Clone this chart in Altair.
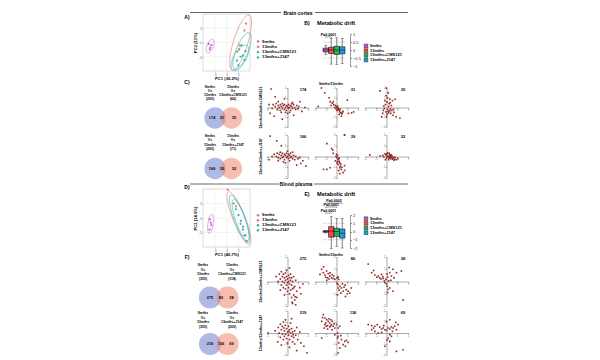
import math
import altair as alt
import numpy as np
import pandas as pd

FONT = "Liberation Sans"
GROUPS = ["9mths", "13mths", "13mths+CMS121", "13mths+J147"]
PCA_COLORS = ["#c46ccb", "#ef6f6a", "#25b47e", "#22b5d4"]
BOX_COLORS = ["#b45ec4", "#ee4b4d", "#22b35d", "#1f9de1"]
PT_COLOR = "#8c1c1c"
VENN_COLORS = ["#6f7fd0", "#f0876f"]

# ---------------- PCA panels ----------------
A_TITLES = ["PC1 (36.2%)", "PC2 (11%)"]
A_GRP = [0, 0, 0, 0, 1, 1, 1, 1, 2, 2, 2, 2, 3, 3, 3, 3]
A_X = [-7.6, -6.9, -6.4, -7.1, 8.3, 7.6, 5.6, 4.6, 5.4, 7.0, 8.1, 6.4, 4.4, 6.0, 7.6, 5.1]
A_Y = [-0.5, -1.8, -0.9, -2.4, 6.6, 4.2, -1.0, -3.2, -2.4, -4.6, -3.0, -1.0, -6.4, -5.0, -6.1, -8.0]
A_ELL_CX = [-7.0, 6.0, 6.6, 5.7]
A_ELL_CY = [-1.3, 0.0, -3.0, -5.4]
A_ELL_A = [2.6, 10.3, 7.1, 5.3]
A_ELL_B = [1.3, 3.0, 2.5, 2.5]
A_ELL_ANG = [62, 69, 63, 53]

D_TITLES = ["PC1 (45.7%)", "PC2 (14.5%)"]
D_GRP = [0, 0, 0, 0, 1, 1, 1, 1, 2, 2, 2, 2, 3, 3, 3, 3]
D_X = [-7.1, -6.5, -7.2, -6.7, 0.6, 4.0, 6.0, 7.6, 3.0, 5.1, 7.0, 8.5, 4.0, 6.1, 7.1, 8.1]
D_Y = [-0.5, -2.5, -4.0, -1.6, 9.7, 4.0, -2.0, -6.0, 5.0, 1.0, -4.0, -8.0, 3.0, -1.0, -3.0, -6.0]
D_ELL_CX = [-6.8, 5.3, 5.5, 6.0]
D_ELL_CY = [-2.0, 0.0, -0.3, -0.7]
D_ELL_A = [3.4, 10.1, 9.0, 7.7]
D_ELL_B = [1.1, 2.5, 2.2, 2.0]
D_ELL_ANG = [80, 117, 115, 114]

PCA_TICKS = [-5, 0, 5]

# ---------------- Metabolic drift boxplots ----------------
B_LO = [-0.3, -0.88, -0.9, -0.85]
B_Q1 = [-0.12, -0.22, -0.28, -0.24]
B_MED = [0.0, 0.0, 0.0, 0.0]
B_Q3 = [0.12, 0.18, 0.24, 0.2]
B_HI = [0.3, 0.72, 0.76, 0.72]
B_TICKS = [-1, -0.5, 0, 0.5, 1]
B_DASH = [-0.5, 0.5]
B_PTEXT = ["P≤0.0001"]
B_PFROM = [0]
B_PTO = [1]
B_PLEV = [0.82]

E_LO = [-0.18, -2.1, -1.8, -2.0]
E_Q1 = [-0.1, -0.7, -0.6, -0.8]
E_MED = [0.0, 0.05, 0.0, -0.2]
E_Q3 = [0.1, 0.6, 0.4, 0.3]
E_HI = [0.15, 1.8, 1.6, 1.6]
E_TICKS = [-2, -1, 0, 1, 2]
E_DASH = [-1, 1]
E_PTEXT = ["P≤0.0001", "P≤0.0001", "P≤0.0002"]
E_PFROM = [0, 0, 0]
E_PTO = [1, 2, 3]
E_PLEV = [2.24, 2.97, 3.45]

# ---------------- Venn diagrams ----------------
VENN_POS = [-1, 1]
C1_LEFT = ["9mths", "Vs", "13mths", "(205)"]
C1_RIGHT = ["13mths", "Vs", "13mths+CMS121", "(66)"]
C1_NUMS = ["174", "31", "35"]
C2_LEFT = ["9mths", "Vs", "13mths", "(205)"]
C2_RIGHT = ["13mths", "Vs", "13mths+J147", "(71)"]
C2_NUMS = ["166", "39", "32"]
F1_LEFT = ["9mths", "Vs", "13mths", "(355)"]
F1_RIGHT = ["13mths", "Vs", "13mths+CMS121", "(118)"]
F1_NUMS = ["275", "80", "38"]
F2_LEFT = ["9mths", "Vs", "13mths", "(355)"]
F2_RIGHT = ["13mths", "Vs", "13mths+J147", "(205)"]
F2_NUMS = ["219", "136", "69"]

# ---------------- Scatter panels (fold-change pairs) ----------------
C1A_X = [-1.4, -1.2, -1.1, -1.0, -0.9, -0.8, -0.7, -0.7, -0.6, -0.5, -0.5, -0.4, -0.3, -0.3, -0.2, -0.1, -0.1, 0.0, 0.1, 0.1, 0.2, 0.3, 0.3, 0.4, 0.5, 0.6, 0.7, 0.8, 0.9, 1.0, 1.1, -0.6, -0.2, 0.2, 0.5, -0.9, -1.6, -1.2, -0.3, -1.7, -1.3, -0.5, 0.6, 1.4, 1.7, 1.2, -1.8, -1.5, 0.0, 0.4]
C1A_Y = [0.3, 0.1, 0.4, -0.2, 0.2, 0.0, 0.3, -0.3, 0.1, 0.4, -0.1, 0.2, -0.2, 0.3, 0.0, 0.2, -0.3, 0.1, 0.3, -0.1, 0.0, 0.2, -0.3, 0.1, -0.1, 0.3, 0.0, -0.2, 0.2, -0.1, 0.1, -0.5, -0.5, -0.5, 0.5, 0.6, 1.9, 1.1, 0.9, -0.6, -0.9, -1.2, -0.8, -0.4, 0.0, 0.6, 0.3, -0.1, -0.6, 0.4]
C1B_X = [-1.7, -1.4, -1.1, -0.7, -0.6, -0.4, -0.25, -0.1, 0.0, 0.1, 0.15, 0.25, 0.3, 0.4, 0.5, 0.2, 0.05, -0.15, 0.35, 1.4, 1.6, 1.0, 0.45, -0.5, 0.6, 0.1, -0.3, 0.25, 0.55, -0.05, 1.1]
C1B_Y = [0.1, 2.0, 1.5, 1.0, 0.6, 0.45, 0.3, 0.2, 0.05, -0.05, -0.2, -0.3, -0.45, -0.55, -0.65, -0.1, -0.3, 0.0, -0.2, -0.55, -0.45, 0.75, -0.9, 0.2, -0.4, 0.15, 0.6, -0.7, -0.5, -0.15, -0.6]
C1C_X = [0.0, -0.6, 0.15, -0.05, 0.3, -0.15, 0.05, 0.25, 0.55, 0.8, -0.3, -0.05, 0.15, 0.4, 0.6, 0.9, -0.45, 0.0, 1.25, 0.35, 0.1, -0.2, 0.5, 0.2, -0.1, 0.7, 0.3, -0.35, 0.45, 0.05, 0.2, -0.25, 0.65, 0.1, 0.35]
C1C_Y = [2.0, 1.7, 1.5, 1.2, 0.85, 0.7, 0.55, 0.4, 0.7, 0.85, -0.3, -0.45, -0.4, -0.6, -0.8, -0.95, -0.95, -0.95, -1.1, -0.15, -0.2, -0.1, -0.3, 0.1, 0.3, -0.5, -0.35, -0.6, 0.2, -0.7, -0.55, 0.15, -0.2, 1.0, 0.5]
C2A_X = [-1.3, -1.1, -1.0, -0.9, -0.8, -0.7, -0.7, -0.6, -0.5, -0.5, -0.4, -0.3, -0.3, -0.2, -0.1, -0.1, 0.0, 0.1, 0.1, 0.2, 0.3, 0.3, 0.4, 0.5, 0.6, 0.7, 0.8, 1.0, 1.2, -0.9, -0.4, 0.2, 0.5, -1.5, -1.7, -1.05, -0.6, 1.3, 1.8, 0.9, 1.5, -1.8, -0.2, 0.0]
C2A_Y = [0.2, 0.0, 0.3, -0.1, 0.2, 0.4, -0.2, 0.1, -0.1, 0.3, 0.0, 0.2, -0.3, 0.1, -0.1, 0.3, 0.0, 0.2, -0.2, 0.1, -0.1, 0.3, 0.0, -0.2, 0.1, -0.3, 0.0, -0.2, -0.1, -0.4, -0.5, -0.4, 0.4, 0.0, 1.9, 1.45, 1.0, -0.65, -0.9, -0.8, -0.4, -0.3, -0.6, 0.5]
C2B_X = [0.75, -0.9, -0.45, -0.35, 0.0, 0.05, 0.15, 0.25, 0.3, 0.15, 0.3, 0.45, -0.6, -0.9, -1.2, 0.6, 0.3, 0.75, 0.75, 0.1, 0.2, -0.05, 0.35, 0.05, 0.25, 0.1, 0.4, -0.1, 0.5, 0.2, 0.75, -0.3]
C2B_Y = [2.0, 1.2, 0.75, 0.6, 0.2, -0.1, -0.3, -0.45, -0.6, -0.75, -1.05, -1.2, -1.05, -1.2, -1.2, -1.5, -1.6, -0.85, -1.3, -0.5, -0.2, 0.0, -0.9, -0.6, -0.15, 0.1, -0.7, -0.4, -1.0, -1.3, 2.0, 0.3]
C2C_X = [-0.05, 0.05, 0.15, 0.3, 0.45, 0.6, 0.75, 0.25, 0.0, -0.25, 0.9, -1.55, -0.6, 0.35, 0.5, 0.2, -0.1, 0.1, 0.4, 0.65, 0.55, 0.15, -0.35, 0.3, 0.8, 0.05, 0.45, -0.15, 0.25, 0.7, 1.05, 0.35]
C2C_Y = [0.15, 0.25, 0.05, 0.0, -0.05, -0.15, -0.25, -0.15, -0.15, -0.05, -0.3, 0.15, 0.05, 0.1, 0.05, -0.3, -0.3, 0.35, -0.2, -0.05, -0.25, -0.05, 0.1, 0.2, -0.1, 0.05, 0.15, 0.25, 0.3, -0.35, -0.2, -0.1]
F1A_X = [-0.8, -0.7, -0.6, -0.6, -0.5, -0.5, -0.4, -0.4, -0.3, -0.3, -0.2, -0.2, -0.2, -0.1, -0.1, 0.0, 0.0, 0.0, 0.1, 0.1, 0.1, 0.2, 0.2, 0.2, 0.3, 0.3, 0.3, 0.4, 0.4, 0.5, 0.5, 0.6, 0.6, 0.7, 0.8, 0.9, -0.7, -0.9, -0.1, 0.4, 0.7, 0.5, 0.9, -0.3, 1.2, 1.5, -1.1, 0.2, 0.8, 1.3, 0.45, 0.75, 0.6]
F1A_Y = [0.6, 0.2, 0.8, -0.3, 0.4, 0.0, 0.6, -0.5, 0.3, -0.1, 0.7, 0.1, -0.6, 0.4, -0.3, 0.2, -0.1, -0.8, 0.5, 0.0, -0.5, 0.3, -0.2, -1.0, 0.6, 0.1, -0.7, -0.3, 0.3, -0.6, 0.0, -1.1, 0.4, -0.4, 0.1, -0.8, -0.7, 0.0, 0.9, -1.3, -1.5, -1.8, -1.3, -1.1, -0.5, -0.2, 0.4, 1.1, -1.9, -1.0, -1.7, -1.25, -0.5]
F1B_X = [-1.38, -1.23, -1.08, -0.92, -0.77, -0.62, -0.46, -0.31, -0.83, -1.0, -0.15, -1.54, 0.15, 0.2, -0.6, -0.4, -1.2, -0.9, -0.25, -0.7, 0.05, 0.15, 0.3, 0.46, 0.7, 0.92, 1.08, 0.62, 0.4, 1.23, 0.83, 0.1, 1.38, 0.15, 0.55, 0.25, 1.0, 0.05, 0.8]
F1B_Y = [1.0, 0.72, 0.53, 0.86, 0.64, 0.44, 0.3, 0.25, 0.3, 0.35, 0.17, 0.58, 0.36, 0.17, 0.7, 0.55, 1.2, 0.1, 0.45, 0.2, 0.3, -0.25, -0.39, -0.53, -0.47, -0.67, -0.8, -0.8, -0.94, -0.94, -1.22, -1.08, -0.53, -0.53, -0.2, -0.7, -1.0, -0.15, -0.3]
F1C_X = [-1.7, -1.38, -1.08, -0.77, -0.62, -0.3, -0.06, 0.25, 0.3, 0.46, 0.6, 0.92, 1.38, 0.06, 0.3, 0.6, 0.15, 1.54, -0.15, -0.46, -0.9, -0.5, 0.1, -0.2, 0.0, 0.2, -1.2, 0.4, 0.1, -0.35, 0.7, 0.05]
F1C_Y = [1.42, 0.72, 0.53, 0.44, 0.3, 0.25, 0.17, 1.14, 0.72, 0.44, 1.0, 0.72, 0.86, -0.39, -0.53, -0.8, -0.65, -1.5, -0.1, 0.58, 0.35, 0.2, 0.35, 0.05, -0.2, 0.05, 0.9, 0.1, -0.9, 0.4, 0.3, 0.6]
F2A_X = [-0.9, -0.8, -0.7, -0.7, -0.6, -0.5, -0.5, -0.4, -0.4, -0.3, -0.3, -0.2, -0.2, -0.1, -0.1, 0.0, 0.0, 0.1, 0.1, 0.2, 0.2, 0.3, 0.3, 0.4, 0.4, 0.5, 0.5, 0.6, 0.7, 0.8, 0.9, -0.95, 0.7, 1.0, 1.3, 1.6, 1.9, 0.9, -1.9, -1.2, 0.4, -0.6, 1.2, 0.2, -0.2, 0.15, -0.35, 0.55]
F2A_Y = [0.5, 0.0, 0.8, -0.4, 0.3, -0.1, 0.6, 1.0, -0.6, 0.2, -0.3, 0.7, -0.1, 0.4, -0.5, 0.1, -0.9, 0.6, -0.2, 0.3, -0.6, 0.0, 0.9, -0.3, 0.4, -0.8, 0.1, -0.4, 0.2, -0.2, 0.5, -0.8, -1.0, -0.6, -0.9, -1.2, -1.8, -1.6, 0.0, 0.2, 1.3, -1.1, 0.1, -1.3, 1.2, 0.15, 0.45, -0.15]
F2B_X = [-1.23, -1.08, -0.92, -0.77, -0.62, -0.46, -0.31, -0.15, -1.0, -0.83, -0.62, -1.38, -1.14, 0.15, 0.3, -0.52, -0.4, -0.22, -0.7, 0.0, -1.08, -0.83, -0.4, -1.3, 0.15, 0.46, 0.77, 0.92, 1.08, 0.62, 0.3, 0.15, 0.1, 0.4, 0.83, 0.2, 1.38, -1.38, 0.1, -0.15, -0.95, -0.55]
F2B_Y = [1.67, 1.36, 1.21, 1.06, 0.91, 0.76, 0.61, 0.45, 0.91, 0.67, 0.55, 1.06, 0.45, 0.45, 0.61, 1.2, 1.06, 0.85, 1.3, 0.76, 0.76, 0.36, 0.3, 1.4, -0.3, -0.6, -0.76, -0.67, -0.85, -1.06, -1.36, -1.82, -0.45, -0.24, -1.21, -0.9, 1.06, -0.45, 0.0, -0.15, 0.6, 0.65]
F2C_X = [-1.7, -1.38, -1.08, -0.86, -0.62, -0.46, -0.31, -0.15, 0.0, 0.15, 0.31, 0.46, 0.62, 0.77, 0.92, 1.08, 0.86, 0.31, 0.0, 0.31, 0.46, 0.15, 0.31, -0.15, 0.92, 1.54, -1.08, -0.77, -1.38, -0.46, -1.2, -0.25, 0.55, 0.05]
F2C_Y = [0.76, 0.67, 0.61, 0.76, 0.55, 0.36, 0.45, 0.3, 0.24, 0.45, 0.36, 0.55, 0.45, 0.61, 0.3, 0.76, 0.97, 1.21, 1.06, -0.15, -0.3, -0.45, -0.76, -1.21, -1.67, -1.52, 0.15, 0.0, 0.3, 0.06, 0.45, 0.67, 0.15, -0.65]

ROW1_TITLE = "13mths/13mths+CMS121"
ROW2_TITLE = "13mths/13mths+J147"
COL_TITLE = "9mths/13mths"

# ---------------- layout ----------------
RH = [4, 71, 46, 53, 5, 66, 53, 51]
COLW = [57, 41, 43, 43]


def T(text, x, y, size=4.0, weight="bold", align="center", baseline="middle", angle=0, color="#000"):
    df = pd.DataFrame({"t": [text]})
    return alt.Chart(df).mark_text(
        fontSize=size, fontWeight=weight, align=align, baseline=baseline,
        angle=angle, color=color, font=FONT
    ).encode(text="t:N", x=alt.value(x), y=alt.value(y))


def blank(w, h):
    return T("", 0, 0).properties(width=w, height=h)


def header(label, h, ly, l_end, r_start, tx):
    df = pd.DataFrame({"t": [label]})
    r1 = alt.Chart(df).mark_rule(color="#444", strokeWidth=0.8).encode(
        x=alt.value(-13), x2=alt.value(l_end), y=alt.value(ly))
    r2 = alt.Chart(df).mark_rule(color="#444", strokeWidth=0.8).encode(
        x=alt.value(r_start), x2=alt.value(205), y=alt.value(ly))
    return alt.layer(r1, r2, T(label, tx, ly, size=5)).properties(width=COLW[0], height=h)


def ellipse_df(cx, cy, a, b, ang):
    rows = []
    t = np.linspace(0, 2 * np.pi, 73)
    for k in range(len(cx)):
        th = math.radians(ang[k])
        ex = cx[k] + a[k] * np.cos(th) * np.cos(t) - b[k] * np.sin(th) * np.sin(t)
        ey = cy[k] + a[k] * np.sin(th) * np.cos(t) + b[k] * np.cos(th) * np.sin(t)
        for j in range(len(t)):
            rows.append({"g": GROUPS[k], "o": j, "x": float(ex[j]), "y": float(ey[j]), "col": PCA_COLORS[k]})
    return pd.DataFrame(rows)


def pca_chart(px, py, pg, ell, w, h, fw, fh, titles, letter, letter_y):
    xsc = alt.Scale(domain=[-10, 10], range=[0, fw], nice=False, zero=False)
    ysc = alt.Scale(domain=[-10, 10], range=[fh, 0], nice=False, zero=False)
    common = dict(grid=False, labelFontSize=2.8, titleFontSize=4.2, titleFontWeight="bold",
                  tickSize=1.2, labelPadding=0.5, domain=False, tickColor="#777",
                  labelColor="#555", tickWidth=0.4, titleFont=FONT, labelFont=FONT)
    xax = alt.Axis(orient="bottom", offset=fh - h, values=PCA_TICKS, title=titles[0], titlePadding=1, **common)
    yax = alt.Axis(orient="left", values=PCA_TICKS, title=titles[1], titlePadding=1, **common)
    gv = alt.Chart(pd.DataFrame({"v": PCA_TICKS, "lo": -10, "hi": 10})).mark_rule(
        color="#e4e4e4", strokeWidth=0.4).encode(
        x=alt.X("v:Q", scale=xsc, axis=xax), y=alt.Y("lo:Q", scale=ysc, axis=yax), y2="hi:Q")
    gh = alt.Chart(pd.DataFrame({"v": PCA_TICKS, "lo": -10, "hi": 10})).mark_rule(
        color="#e4e4e4", strokeWidth=0.4).encode(
        y=alt.Y("v:Q", scale=ysc, axis=yax), x=alt.X("lo:Q", scale=xsc, axis=xax), x2="hi:Q")
    frame = alt.Chart(pd.DataFrame({"x0": [-10], "x1": [10], "y0": [-10], "y1": [10]})).mark_rect(
        fillOpacity=0, stroke="#b5b5b5", strokeWidth=0.5).encode(
        x=alt.X("x0:Q", scale=xsc, axis=xax), x2="x1:Q", y=alt.Y("y0:Q", scale=ysc, axis=yax), y2="y1:Q")
    ell_l = alt.Chart(ell).mark_line(strokeWidth=0.6).encode(
        x=alt.X("x:Q", scale=xsc, axis=xax), y=alt.Y("y:Q", scale=ysc, axis=yax),
        detail="g:N", order="o:Q", color=alt.Color("col:N", scale=None))
    pdf = pd.DataFrame({"x": px, "y": py, "col": [PCA_COLORS[g] for g in pg]})
    pts = alt.Chart(pdf).mark_point(filled=True, size=5, opacity=1).encode(
        x=alt.X("x:Q", scale=xsc, axis=xax), y=alt.Y("y:Q", scale=ysc, axis=yax),
        color=alt.Color("col:N", scale=None))
    return alt.layer(gv, gh, frame, ell_l, pts, T(letter, -16, letter_y, size=5)).properties(width=w, height=h)


def legend_chart(w, h, y0, y1, xs, xt, colors, square, fsize):
    df = pd.DataFrame({"g": GROUPS, "i": [0, 1, 2, 3], "col": colors})
    ysc = alt.Scale(domain=[0, 3], range=[y0, y1], nice=False, zero=False)
    if square:
        sym = alt.Chart(df).mark_point(filled=True, shape="square", size=14, stroke="#000",
                                       strokeWidth=0.4, opacity=1)
    else:
        sym = alt.Chart(df).mark_point(filled=True, shape="circle", size=6, opacity=1)
    sym = sym.encode(x=alt.value(xs), y=alt.Y("i:Q", scale=ysc, axis=None),
                     color=alt.Color("col:N", scale=None))
    txt = alt.Chart(df).mark_text(align="left", baseline="middle", fontSize=fsize,
                                  fontWeight="bold", font=FONT).encode(
        x=alt.value(xt), y=alt.Y("i:Q", scale=ysc, axis=None), text="g:N")
    return alt.layer(sym, txt).properties(width=w, height=h)


def box_chart(lo, q1, med, q3, hi, w, h, x0, x1, yb, yt, dom, ticks, dashes,
              ptext, pfrom, pto, plev, pdy, legdy, letter, title_y):
    df = pd.DataFrame({"i": [0, 1, 2, 3], "lo": lo, "q1": q1, "med": med, "q3": q3,
                       "hi": hi, "col": BOX_COLORS})
    xsc = alt.Scale(domain=[-0.5, 3.5], range=[x0, x1], nice=False, zero=False)
    ysc = alt.Scale(domain=dom, range=[yb, yt], nice=False, zero=False)
    yax = alt.Axis(orient="right", offset=x1 - w, values=ticks, title=None, grid=False, labelFontSize=4,
                   tickSize=1.5, labelPadding=1, domainWidth=0.5, tickWidth=0.5,
                   domainColor="#333", tickColor="#333", labelColor="#222",
                   labelFlush=False, labelFont=FONT, format="~g")
    xe = alt.X("i:Q", scale=xsc, axis=None)
    dash = alt.Chart(pd.DataFrame({"v": dashes, "a": -0.5, "b": 3.5})).mark_rule(
        strokeDash=[1.5, 1], color="#999", strokeWidth=0.5).encode(
        x=alt.X("a:Q", scale=xsc, axis=None), x2="b:Q", y=alt.Y("v:Q", scale=ysc, axis=yax))
    base = alt.Chart(df)
    wh = base.mark_rule(color="#000", strokeWidth=0.5).encode(
        x=xe, y=alt.Y("lo:Q", scale=ysc, axis=yax), y2="hi:Q")
    cap_lo = base.mark_tick(orient="horizontal", size=3, thickness=0.5, color="#000").encode(
        x=xe, y=alt.Y("lo:Q", scale=ysc, axis=yax))
    cap_hi = base.mark_tick(orient="horizontal", size=3, thickness=0.5, color="#000").encode(
        x=xe, y=alt.Y("hi:Q", scale=ysc, axis=yax))
    box = base.mark_bar(size=5.5, stroke="#000", strokeWidth=0.5, opacity=1).encode(
        x=xe, y=alt.Y("q1:Q", scale=ysc, axis=yax), y2="q3:Q",
        color=alt.Color("col:N", scale=None))
    medl = base.mark_tick(orient="horizontal", size=5.5, thickness=0.7, color="#000").encode(
        x=xe, y=alt.Y("med:Q", scale=ysc, axis=yax))
    pdf = pd.DataFrame({"a": pfrom, "b": pto, "lev": plev, "t": ptext})
    pdf["leg"] = pdf["lev"] - legdy
    pdf["tx"] = (pdf["a"] + pdf["b"]) / 2
    pdf["ty"] = pdf["lev"] + pdy
    pb = alt.Chart(pdf)
    br = pb.mark_rule(color="#000", strokeWidth=0.4).encode(
        x=alt.X("a:Q", scale=xsc, axis=None), x2="b:Q", y=alt.Y("lev:Q", scale=ysc, axis=yax))
    lg1 = pb.mark_rule(color="#000", strokeWidth=0.4).encode(
        x=alt.X("a:Q", scale=xsc, axis=None), y=alt.Y("leg:Q", scale=ysc, axis=yax), y2="lev:Q")
    lg2 = pb.mark_rule(color="#000", strokeWidth=0.4).encode(
        x=alt.X("b:Q", scale=xsc, axis=None), y=alt.Y("leg:Q", scale=ysc, axis=yax), y2="lev:Q")
    pt = pb.mark_text(fontSize=3.6, fontWeight="bold", font=FONT, baseline="middle").encode(
        x=alt.X("tx:Q", scale=xsc, axis=None), y=alt.Y("ty:Q", scale=ysc, axis=yax), text="t:N")
    return alt.layer(
        dash, wh, cap_lo, cap_hi, box, medl, br, lg1, lg2, pt,
        T(letter, x0 - 11, title_y, size=5),
        T("Metabolic drift", x0 - 1, title_y, size=5.6, align="left"),
    ).properties(width=w, height=h)


def venn_chart(w, h, mid, hd, r, yc, left, right, lx, rx, ly0, lstep, nums, npos, letter=None, letter_y=0):
    xsc = alt.Scale(domain=[-mid / hd, (w - mid) / hd], nice=False, zero=False)
    ysc = alt.Scale(domain=[-(h - yc) / hd, yc / hd], nice=False, zero=False)
    cdf = pd.DataFrame({"p": VENN_POS, "z": [0, 0], "c": VENN_COLORS})
    circ = alt.Chart(cdf).mark_circle(size=math.pi * r * r, opacity=0.55).encode(
        x=alt.X("p:Q", scale=xsc, axis=None), y=alt.Y("z:Q", scale=ysc, axis=None),
        color=alt.Color("c:N", scale=None))
    ndf = pd.DataFrame({"p": npos, "z": [0, 0, 0], "t": nums})
    ntx = alt.Chart(ndf).mark_text(fontSize=3.9, fontWeight="bold", font=FONT, baseline="middle").encode(
        x=alt.X("p:Q", scale=xsc, axis=None), y=alt.Y("z:Q", scale=ysc, axis=None), text="t:N")
    layers = [circ, ntx]
    for k in range(4):
        layers.append(T(left[k], lx, ly0 + k * lstep, size=3.5))
        layers.append(T(right[k], rx, ly0 + k * lstep, size=3.5))
    if letter:
        layers.append(T(letter, -16, letter_y, size=5))
    return alt.layer(*layers).properties(width=w, height=h)


def scatter(xs, ys, label, w, h, yb, yt, ytitle=None, toptitle=None):
    df = pd.DataFrame({"x": xs, "y": ys})
    yc = (yb + yt) / 2
    common = dict(title=None, grid=False, labelFontSize=2.6, tickSize=1.2, labelPadding=0.3,
                  domainWidth=0.5, tickWidth=0.5, domainColor="#555", tickColor="#555",
                  labelColor="#666", labelFlush=False, labelOverlap=False, format="d",
                  values=[-2, -1, 1, 2], labelFont=FONT)
    xax = alt.Axis(orient="bottom", offset=yc - h, **common)
    yax = alt.Axis(orient="left", offset=-w / 2, **common)
    pts = alt.Chart(df).mark_point(filled=True, size=2.6, shape="square", color=PT_COLOR,
                                   opacity=0.95).encode(
        x=alt.X("x:Q", scale=alt.Scale(domain=[-2, 2], nice=False, zero=False), axis=xax),
        y=alt.Y("y:Q", scale=alt.Scale(domain=[-2, 2], range=[yb, yt], nice=False, zero=False), axis=yax))
    layers = [pts, T(label, w - 5, yt + 2, size=4)]
    if ytitle:
        layers.append(T(ytitle, -6, yc, size=3.6, angle=270))
    if toptitle:
        layers.append(T(toptitle[0], toptitle[1], toptitle[2], size=3.6))
    return alt.layer(*layers).properties(width=w, height=h)


A_ELL = ellipse_df(A_ELL_CX, A_ELL_CY, A_ELL_A, A_ELL_B, A_ELL_ANG)
D_ELL = ellipse_df(D_ELL_CX, D_ELL_CY, D_ELL_A, D_ELL_B, D_ELL_ANG)

rows = []
# R1 header
rows += [header("Brain cortex", RH[0], 2.5, 78, 112, 95),
         blank(COLW[1], RH[0]), blank(COLW[2], RH[0]), blank(COLW[3], RH[0])]
# R2 A / B
rows += [
    pca_chart(A_X, A_Y, A_GRP, A_ELL, COLW[0], RH[1], 47, 57, A_TITLES, "A)", 3),
    legend_chart(COLW[1], RH[1], 27.5, 43.4, -9, -5, PCA_COLORS, False, 4.3),
    box_chart(B_LO, B_Q1, B_MED, B_Q3, B_HI, COLW[2], RH[1], 3, 35, 52, 20, [-1, 1], B_TICKS, B_DASH,
              B_PTEXT, B_PFROM, B_PTO, B_PLEV, 0.13, 0.06, "B)", 9),
    legend_chart(COLW[3], RH[1], 32, 46, 1, 5, BOX_COLORS, True, 4),
]
# R3 C top
rows += [
    venn_chart(COLW[0], RH[2], 20.25, 8.25, 12, 33, C1_LEFT, C1_RIGHT, 7, 30, 2, 4.1, C1_NUMS,
               [-1.35, -0.15, 1.3], "C)", -3),
    scatter(C1A_X, C1A_Y, C1_NUMS[0], COLW[1], RH[2], 42, 3, ytitle=ROW1_TITLE),
    scatter(C1B_X, C1B_Y, C1_NUMS[1], COLW[2], RH[2], 42, 3, toptitle=(COL_TITLE, 16, -1)),
    scatter(C1C_X, C1C_Y, C1_NUMS[2], COLW[3], RH[2], 42, 3),
]
# R4 C bottom
rows += [
    venn_chart(COLW[0], RH[3], 20.25, 8.25, 12, 37.5, C2_LEFT, C2_RIGHT, 7, 30, 5, 4.4, C2_NUMS,
               [-1.35, -0.15, 1.3]),
    scatter(C2A_X, C2A_Y, C2_NUMS[0], COLW[1], RH[3], 47, 4, ytitle=ROW2_TITLE),
    scatter(C2B_X, C2B_Y, C2_NUMS[1], COLW[2], RH[3], 47, 4),
    scatter(C2C_X, C2C_Y, C2_NUMS[2], COLW[3], RH[3], 47, 4),
]
# R5 header
rows += [header("Blood plasma", RH[4], 0, 76, 111, 93),
         blank(COLW[1], RH[4]), blank(COLW[2], RH[4]), blank(COLW[3], RH[4])]
# R6 D / E
rows += [
    pca_chart(D_X, D_Y, D_GRP, D_ELL, COLW[0], RH[5], 47, 58, D_TITLES, "D)", -2),
    legend_chart(COLW[1], RH[5], 26.3, 41.3, -9, -5, PCA_COLORS, False, 4.3),
    box_chart(E_LO, E_Q1, E_MED, E_Q3, E_HI, COLW[2], RH[5], 3, 35, 59, 26, [-2, 2], E_TICKS, E_DASH,
              E_PTEXT, E_PFROM, E_PTO, E_PLEV, 0.25, 0.12, "E)", 5),
    legend_chart(COLW[3], RH[5], 29.7, 43.7, 1, 5, BOX_COLORS, True, 4),
]
# R7 F top
rows += [
    venn_chart(COLW[0], RH[6], 15.75, 8.75, 12.5, 42.5, F1_LEFT, F1_RIGHT, 0, 29, 10, 4.7, F1_NUMS,
               [-1.0, 0.25, 1.45], "F)", 2),
    scatter(F1A_X, F1A_Y, F1_NUMS[0], COLW[1], RH[6], 51, 2, ytitle=ROW1_TITLE),
    scatter(F1B_X, F1B_Y, F1_NUMS[1], COLW[2], RH[6], 51, 2, toptitle=(COL_TITLE, 16, 0)),
    scatter(F1C_X, F1C_Y, F1_NUMS[2], COLW[3], RH[6], 51, 2),
]
# R8 F bottom
rows += [
    venn_chart(COLW[0], RH[7], 15.75, 8.75, 12.5, 36, F2_LEFT, F2_RIGHT, 0, 29, 5, 4.7, F2_NUMS,
               [-1.0, 0.25, 1.45]),
    scatter(F2A_X, F2A_Y, F2_NUMS[0], COLW[1], RH[7], 47, 3, ytitle=ROW2_TITLE),
    scatter(F2B_X, F2B_Y, F2_NUMS[1], COLW[2], RH[7], 47, 3),
    scatter(F2C_X, F2C_Y, F2_NUMS[2], COLW[3], RH[7], 47, 3),
]

chart = alt.concat(
    *rows, columns=4, spacing={"row": 0, "column": 7}, align="none", bounds="flush"
).properties(
    padding={"left": 176, "top": 0, "right": 5, "bottom": 0}
).configure_view(stroke=None).configure_text(font=FONT).configure_axis(labelFont=FONT, titleFont=FONT)

chart.save("out.html", embed_options={"renderer": "svg", "actions": False})
